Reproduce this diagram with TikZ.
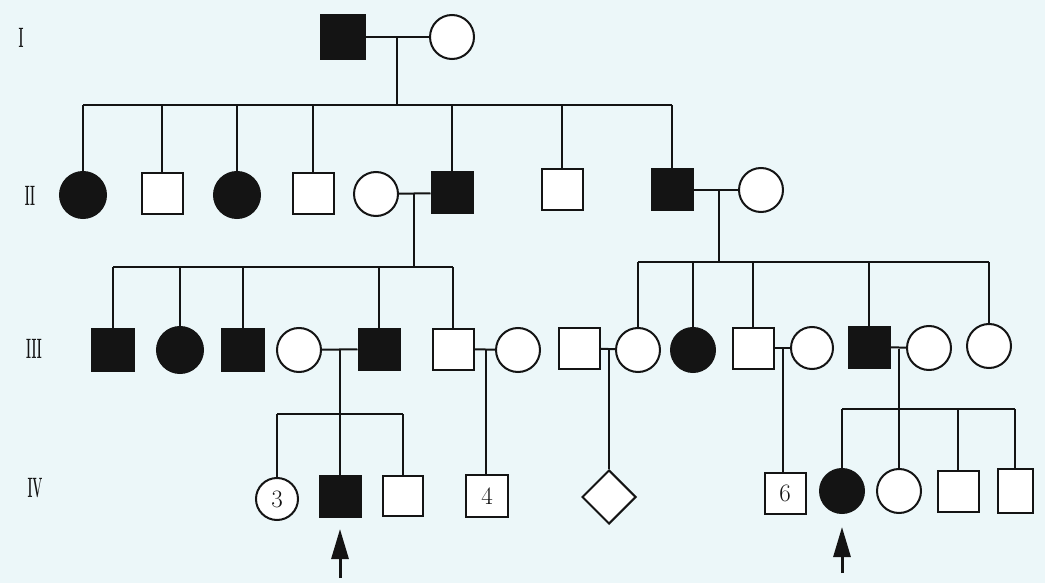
\documentclass[tikz,border=0pt]{standalone}
\usetikzlibrary{shapes.geometric,arrows.meta}
\definecolor{bgc}{RGB}{236,247,249}
\definecolor{ink}{RGB}{20,20,20}
\begin{document}
\begin{tikzpicture}[x=1pt,y=-1pt, line width=2pt, color=ink,
  male/.style={rectangle, draw=ink, line width=2pt, fill=white, minimum size=41pt, inner sep=0pt, font=\fontsize{25}{25}\selectfont},
  female/.style={circle, draw=ink, line width=2pt, fill=white, minimum size=44pt, inner sep=0pt, font=\fontsize{25}{25}\selectfont},
  aff/.style={fill=ink},
  unk/.style={diamond, draw=ink, line width=2pt, fill=white, minimum size=54pt, aspect=1, inner sep=0pt},
  gen/.style={font=\fontsize{28}{28}\selectfont\bfseries, xscale=0.42, text=ink, inner sep=0pt},
  proband/.style={-{Triangle[length=30pt,width=17pt]}, line width=3pt, draw=ink}
]
\useasboundingbox (0,0) rectangle (1045,583);
\fill[bgc] (0,0) rectangle (1045,583);

% generation labels
\node[gen] (LI) at (21,38) {I};
\node[gen] (LII) at (30,196) {II};
\node[gen] (LIII) at (34,349) {III};
\node[gen] (LIV) at (35,488) {IV};

% Generation I
\node[male,aff,minimum size=44pt] (sI) at (343,37) {};
\node[female] (cI) at (452,37) {};
\coordinate (mI) at (397,37);
\coordinate (gII) at (397,105);

% Generation II
\node[female,aff,minimum size=46pt] (a1) at (83,195) {};
\node[male] (a2) at (162,194) {};
\node[female,aff,minimum size=46pt] (a3) at (237,195) {};
\node[male] (a4) at (313,194) {};
\node[female] (a5) at (376,194) {};
\node[male,aff] (a6) at (452,193) {};
\node[male] (a7) at (562,190) {};
\node[male,aff] (a8) at (672,190) {};
\node[female] (a9) at (761,190) {};
\coordinate (m5) at (414,194);
\coordinate (gIIIL) at (414,267);
\coordinate (m8) at (719,190);
\coordinate (gIIIR) at (719,262);

% Generation III
\node[male,aff,minimum size=42pt] (b1) at (113,350) {};
\node[female,aff,minimum size=46pt] (b2) at (180,350) {};
\node[male,aff,minimum size=42pt] (b3) at (243,350) {};
\node[female] (b4) at (299,350) {};
\node[male,aff] (b5) at (379,349) {};
\node[male] (b6) at (453,349) {};
\node[female] (b7) at (518,350) {};
\coordinate (mb4) at (340,350);
\coordinate (gIVL) at (340,414);
\coordinate (mb6) at (486,350);

\node[male] (c1) at (579,348) {};
\node[female] (c2) at (638,350) {};
\node[female,aff] (c3) at (693,350) {};
\node[male] (c4) at (753,348) {};
\node[female,minimum size=42pt] (c5) at (812,348) {};
\node[male,aff] (c6) at (869,347) {};
\node[female] (c7) at (929,348) {};
\node[female] (c8) at (989,346) {};
\coordinate (mc1) at (609,349);
\coordinate (mc4) at (783,349);
\coordinate (mc6) at (899,349);
\coordinate (gIVR) at (899,409);

% Generation IV
\node[female,minimum size=42pt] (d1) at (277,499) {3};
\node[male,aff] (d2) at (340,496) {};
\node[male,minimum size=40pt] (d3) at (403,496) {};
\node[male,minimum size=42pt] (d4) at (487,496) {4};
\node[unk] (d5) at (609,497) {};
\node[male] (d6) at (785,493) {6};
\node[female,aff] (d7) at (842,491) {};
\node[female] (d8) at (899,491) {};
\node[male] (d9) at (958,491) {};
\node[male,minimum width=35pt,minimum height=44pt] (d10) at (1015,491) {};

% proband arrows
\coordinate (p1) at (340,578);
\coordinate (t1) at (340,529);
\coordinate (p2) at (842,573);
\coordinate (t2) at (842,527);
\draw[proband] (p1) -- (t1);
\draw[proband] (p2) -- (t2);

% connectors: generation I
\draw (sI) -- (cI);
\draw (mI) -- (gII);
\draw (a1 |- gII) -- (a8 |- gII);
\foreach \n in {a1,a2,a3,a4,a6,a7,a8} \draw (\n |- gII) -- (\n);

% generation II marriages
\draw (a5) -- (a6);
\draw (m5) -- (gIIIL);
\draw (b1 |- gIIIL) -- (b6 |- gIIIL);
\foreach \n in {b1,b2,b3,b5,b6} \draw (\n |- gIIIL) -- (\n);

\draw (a8) -- (a9);
\draw (m8) -- (gIIIR);
\draw (c2 |- gIIIR) -- (c8 |- gIIIR);
\foreach \n in {c2,c3,c4,c6,c8} \draw (\n |- gIIIR) -- (\n);

% generation III marriages
\draw (b4) -- (b5);
\draw (mb4) -- (d2);
\draw (d1 |- gIVL) -- (d3 |- gIVL);
\foreach \n in {d1,d3} \draw (\n |- gIVL) -- (\n);

\draw (b6) -- (b7);
\draw (mb6) -- (mb6 |- d4.north);

\draw (c1) -- (c2);
\draw (mc1) -- (d5);

\draw (c4) -- (c5);
\draw (mc4) -- (mc4 |- d6.north);

\draw (c6) -- (c7);
\draw (mc6) -- (gIVR);
\draw (d7 |- gIVR) -- (d10 |- gIVR);
\foreach \n in {d7,d8,d9,d10} \draw (\n |- gIVR) -- (\n);
\end{tikzpicture}
\end{document}
